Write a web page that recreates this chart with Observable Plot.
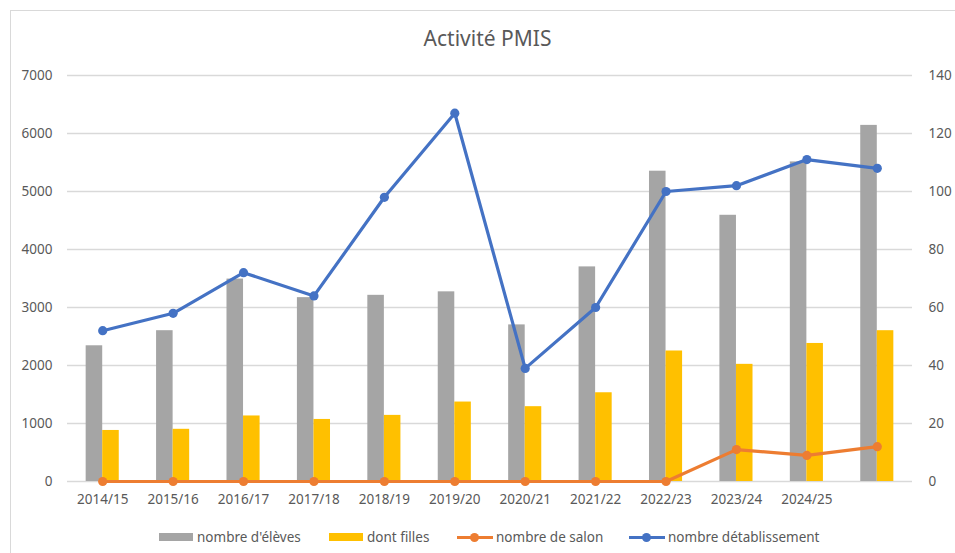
<!DOCTYPE html>
<html>
<head>
<meta charset="utf-8">
<script src="https://cdn.jsdelivr.net/npm/d3@7"></script>
<script src="https://cdn.jsdelivr.net/npm/@observablehq/plot@0.6"></script>
<style>
  html, body { margin: 0; padding: 0; background: #fff; overflow: hidden; }
  #wrap { position: relative; width: 955px; height: 553px; font-family: "Noto Sans", "Open Sans", sans-serif; }
  #frame { position: absolute; left: 10px; top: 10px; width: 1000px; height: 600px; border: 1px solid #d9d9d9; box-sizing: border-box; }
  #title { position: absolute; left: 0; width: 975px; top: 24px; text-align: center; font-size: 21px; color: #595959; }
  #chart { position: absolute; left: 0; top: 0; }
  #legend { position: absolute; top: 527px; left: 0; width: 955px; height: 20px; font-size: 13.5px; color: #595959; }
  .item { position: absolute; top: 0; display: flex; align-items: center; height: 20px; white-space: nowrap; }
  .sw { width: 34px; height: 8px; margin-right: 4px; }
  .ln { width: 36px; height: 12px; margin-right: 3px; position: relative; }
  .ln .bar { position: absolute; left: 0; right: 0; top: 4.5px; height: 3px; }
  .ln .dot { position: absolute; left: 13px; top: 1.5px; width: 9px; height: 9px; border-radius: 50%; }
</style>
</head>
<body>
<div id="wrap">
  <div id="frame"></div>
  <div id="chart"></div>
  <div id="title">Activité PMIS</div>
  <div id="legend"></div>
</div>
<script>
const categories = ["2014/15","2015/16","2016/17","2017/18","2018/19","2019/20","2020/21","2021/22","2022/23","2023/24","2024/25",""];
const eleves = [2340, 2600, 3490, 3170, 3210, 3270, 2700, 3700, 5350, 4590, 5510, 6140];
const filles = [880, 900, 1130, 1070, 1140, 1370, 1290, 1530, 2250, 2020, 2380, 2600];
const salons = [0, 0, 0, 0, 0, 0, 0, 0, 0, 11, 9, 12];
const etablissements = [52, 58, 72, 64, 98, 127, 39, 60, 100, 102, 111, 108];
const leftTicks = [0, 1000, 2000, 3000, 4000, 5000, 6000, 7000];
const rightTicks = [0, 20, 40, 60, 80, 100, 120, 140];

const seriesNames = ["nombre d'élèves", "dont filles", "nombre de salon", "nombre détablissement"];
const colors = ["#a5a5a5", "#ffc000", "#ed7d31", "#4472c4"];

const ratio = 7000 / 140;
const rows = categories.map((c, i) => ({
  cat: c, eleves: eleves[i], filles: filles[i],
  salon: salons[i] * ratio, etab: etablissements[i] * ratio
}));

const chart = Plot.plot({
  width: 955,
  height: 553,
  marginLeft: 67,
  marginRight: 43,
  marginTop: 75,
  marginBottom: 72,
  style: { fontFamily: "Noto Sans, Open Sans, sans-serif", fontSize: "13.5px", color: "#595959", background: "transparent" },
  x: { type: "band", domain: categories, paddingInner: 0.53, paddingOuter: 0.265, round: false },
  y: { domain: [0, 7000] },
  marks: [
    Plot.ruleY(leftTicks, { stroke: "#d9d9d9", strokeWidth: 1.3 }),
    Plot.axisY(leftTicks, { anchor: "left", tickSize: 0, tickPadding: 15, fill: "#595959", fontSize: 13.5, label: null, tickFormat: (d) => String(d) }),
    Plot.axisY(rightTicks.map((t) => t * ratio), { anchor: "right", tickSize: 0, tickPadding: 16, fill: "#595959", fontSize: 13.5, label: null, tickFormat: (d) => String(Math.round(d / ratio)) }),
    Plot.axisX({ tickSize: 0, tickPadding: 13, fill: "#595959", fontSize: 13.5, label: null }),
    Plot.barY(rows, { x: "cat", y: "eleves", fill: colors[0], insetRight: 16.55 }),
    Plot.barY(rows, { x: "cat", y: "filles", fill: colors[1], insetLeft: 16.55 }),
    Plot.line(rows, { x: "cat", y: "salon", stroke: colors[2], strokeWidth: 3.2 }),
    Plot.dot(rows, { x: "cat", y: "salon", fill: colors[2], r: 4.6 }),
    Plot.line(rows, { x: "cat", y: "etab", stroke: colors[3], strokeWidth: 3.2 }),
    Plot.dot(rows, { x: "cat", y: "etab", fill: colors[3], r: 4.6 })
  ]
});
document.getElementById("chart").appendChild(chart);

const legend = document.getElementById("legend");
const positions = [159, 329, 457, 629];
seriesNames.forEach((name, i) => {
  const item = document.createElement("div");
  item.className = "item";
  item.style.left = positions[i] + "px";
  if (i < 2) {
    item.innerHTML = `<div class="sw" style="background:${colors[i]}"></div><span></span>`;
  } else {
    item.innerHTML = `<div class="ln"><div class="bar" style="background:${colors[i]}"></div><div class="dot" style="background:${colors[i]}"></div></div><span></span>`;
  }
  item.querySelector("span").textContent = name;
  legend.appendChild(item);
});
</script>
</body>
</html>
